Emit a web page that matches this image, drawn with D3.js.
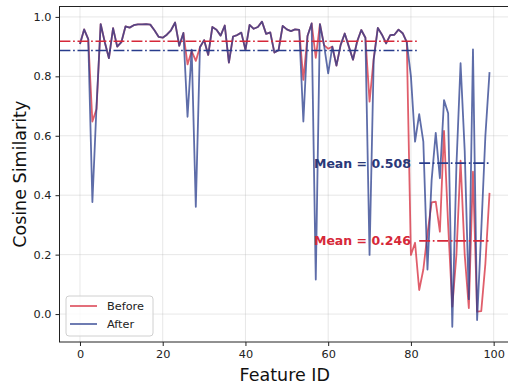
<!DOCTYPE html>
<html>
<head>
<meta charset="utf-8">
<script src="https://cdn.jsdelivr.net/npm/d3@7/dist/d3.min.js"></script>
<style>
  body { margin: 0; background: #fff; }
  svg { display: block; font-family: "DejaVu Sans", sans-serif; }
</style>
</head>
<body>
<svg id="chart" width="508" height="385"></svg>
<script>
// values, feature ids 0..99
const featureIds = d3.range(100);

const before = [
  0.909, 0.958, 0.925, 0.648, 0.690, 0.976, 0.915, 0.861, 0.962, 0.900,
  0.915, 0.968, 0.964, 0.972, 0.975, 0.975, 0.976, 0.974, 0.955, 0.933,
  0.930, 0.940, 0.955, 0.981, 0.903, 0.946, 0.840, 0.885, 0.852, 0.898,
  0.922, 0.872, 0.966, 0.957, 0.937, 0.971, 0.846, 0.934, 0.939, 0.947,
  0.889, 0.973, 0.960, 0.966, 0.984, 0.943, 0.948, 0.880, 0.888, 0.970,
  0.958, 0.952, 0.958, 0.956, 0.788, 0.936, 0.978, 0.862, 0.976, 0.905,
  0.893, 0.900, 0.836, 0.905, 0.944, 0.900, 0.856, 0.917, 0.956, 0.930,
  0.715, 0.860, 0.963, 0.940, 0.911, 0.939, 0.940, 0.957, 0.945, 0.915,
  0.199, 0.240, 0.081, 0.150, 0.270, 0.376, 0.378, 0.277, 0.616, 0.300,
  0.025, 0.200, 0.516, 0.200, 0.020, 0.479, 0.008, 0.010, 0.170, 0.408
];

const after = [
  0.909, 0.958, 0.925, 0.377, 0.700, 0.976, 0.915, 0.861, 0.962, 0.900,
  0.915, 0.968, 0.964, 0.972, 0.975, 0.975, 0.976, 0.974, 0.955, 0.933,
  0.930, 0.940, 0.955, 0.981, 0.903, 0.946, 0.664, 0.890, 0.361, 0.898,
  0.922, 0.872, 0.966, 0.957, 0.937, 0.971, 0.846, 0.934, 0.939, 0.947,
  0.889, 0.973, 0.960, 0.966, 0.984, 0.943, 0.948, 0.880, 0.888, 0.970,
  0.958, 0.952, 0.958, 0.956, 0.648, 0.936, 0.978, 0.116, 0.976, 0.905,
  0.810, 0.900, 0.836, 0.905, 0.944, 0.900, 0.856, 0.917, 0.956, 0.930,
  0.199, 0.855, 0.963, 0.940, 0.911, 0.939, 0.940, 0.957, 0.945, 0.915,
  0.800, 0.580, 0.673, 0.580, 0.150, 0.450, 0.610, 0.457, 0.720, 0.676,
  -0.043, 0.500, 0.844, 0.550, 0.050, 0.891, -0.020, 0.280, 0.600, 0.814
];

// dash-dot reference lines (top ones run from the left edge of the axes)
const refLines = [
  { name: "before", value: 0.918, x0: -4.95, x1: 82 },
  { name: "after", value: 0.887, x0: -4.95, x1: 82 }
];
const meanLines = [
  { name: "after", value: 0.508, x0: 82, x1: 99, label: "Mean = 0.508" },
  { name: "before", value: 0.246, x0: 82, x1: 99, label: "Mean = 0.246" }
];

const xTicks = [0, 20, 40, 60, 80, 100];
const yTicks = [0.0, 0.2, 0.4, 0.6, 0.8, 1.0];

const colors = { before: "#d62839", after: "#283c8c" };
const textColors = { before: "#d62839", after: "#2a3878" };

const svg = d3.select("#chart");
const plot = { left: 59.5, top: 6.5, right: 510, bottom: 342 };

const x = d3.scaleLinear().domain([-4.95, 103.95]).range([plot.left, plot.right]);
const y = d3.scaleLinear().domain([-0.094, 1.035]).range([plot.bottom, plot.top]);

// grid
const grid = svg.append("g");
grid.selectAll(".gx").data(xTicks).join("line")
  .attr("x1", d => x(d)).attr("x2", d => x(d))
  .attr("y1", plot.top).attr("y2", plot.bottom)
  .attr("stroke", "#b0b0b0").attr("stroke-opacity", 0.3).attr("stroke-width", 1);
grid.selectAll(".gy").data(yTicks).join("line")
  .attr("x1", plot.left).attr("x2", plot.right)
  .attr("y1", d => y(d)).attr("y2", d => y(d))
  .attr("stroke", "#b0b0b0").attr("stroke-opacity", 0.3).attr("stroke-width", 1);

// series
const line = d3.line().x((d, i) => x(featureIds[i])).y(d => y(d));
const series = [
  { name: "before", values: before, label: "Before" },
  { name: "after", values: after, label: "After" }
];
svg.append("g").selectAll("path").data(series).join("path")
  .attr("d", d => line(d.values))
  .attr("fill", "none")
  .attr("stroke", d => colors[d.name])
  .attr("stroke-opacity", 0.75)
  .attr("stroke-width", 1.8)
  .attr("stroke-linejoin", "round");

// dash-dot lines
const dash = "10.9,2.7,1.7,2.7";
svg.append("g").selectAll("line").data(refLines.concat(meanLines)).join("line")
  .attr("x1", d => x(d.x0)).attr("x2", d => x(d.x1))
  .attr("y1", d => y(d.value)).attr("y2", d => y(d.value))
  .attr("stroke", d => colors[d.name])
  .attr("stroke-width", 1.7)
  .attr("stroke-dasharray", dash);

svg.append("g").selectAll("text").data(meanLines).join("text")
  .attr("x", x(80))
  .attr("y", d => y(d.value))
  .attr("dy", "0.36em")
  .attr("text-anchor", "end")
  .attr("font-size", 12.5)
  .attr("font-weight", "bold")
  .attr("fill", d => textColors[d.name])
  .text(d => d.label);

// axes
const xAxis = svg.append("g").attr("transform", `translate(0,${plot.bottom})`)
  .call(d3.axisBottom(x).tickValues(xTicks).tickFormat(d3.format("d")).tickSize(4).tickPadding(4));
const yAxis = svg.append("g").attr("transform", `translate(${plot.left},0)`)
  .call(d3.axisLeft(y).tickValues(yTicks).tickFormat(d3.format(".1f")).tickSize(4).tickPadding(4));
[xAxis, yAxis].forEach(a => {
  a.select(".domain").remove();
  a.selectAll("text").attr("font-size", 11.3).attr("fill", "#222").attr("font-family", "DejaVu Sans");
  a.selectAll("line").attr("stroke", "#222");
});

// spines
svg.append("rect")
  .attr("x", plot.left).attr("y", plot.top)
  .attr("width", plot.right - plot.left).attr("height", plot.bottom - plot.top)
  .attr("fill", "none").attr("stroke", "#222").attr("stroke-width", 1);

// axis labels
svg.append("text")
  .attr("x", (plot.left + plot.right) / 2).attr("y", 381)
  .attr("text-anchor", "middle").attr("font-size", 17.5).attr("fill", "#111")
  .text("Feature ID");
svg.append("text")
  .attr("transform", `translate(26,${(plot.top + plot.bottom) / 2}) rotate(-90)`)
  .attr("text-anchor", "middle").attr("font-size", 17.5).attr("fill", "#111")
  .text("Cosine Similarity");

// legend
const legend = svg.append("g").attr("transform", "translate(66,296)");
legend.append("rect")
  .attr("width", 87).attr("height", 40).attr("rx", 3)
  .attr("fill", "#fff").attr("fill-opacity", 0.8)
  .attr("stroke", "#d0d0d0").attr("stroke-width", 1);
const item = legend.selectAll(".item").data(series).join("g")
  .attr("transform", (d, i) => `translate(0,${10 + i * 18})`);
item.append("line")
  .attr("x1", 4).attr("x2", 31)
  .attr("stroke", d => colors[d.name]).attr("stroke-opacity", 0.75).attr("stroke-width", 1.8);
item.append("text")
  .attr("x", 41).attr("dy", "0.36em")
  .attr("font-size", 11.3).attr("fill", "#222")
  .text(d => d.label);
</script>
</body>
</html>
